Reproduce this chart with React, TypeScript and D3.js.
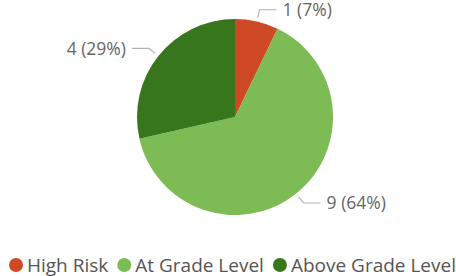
import React, { useRef, useEffect } from 'react';
import * as d3 from 'd3';

const categories = ['High Risk', 'At Grade Level', 'Above Grade Level'];
const counts = [1, 9, 4];
const colors = ['#CF4A24', '#7DBB55', '#38761D'];

const width = 456;
const height = 276;
const cx = 235;
const cy = 117;
const radius = 98;
const font = "'Open Sans', 'Noto Sans', sans-serif";

const App: React.FC = () => {
  const legendRef = useRef<SVGGElement | null>(null);

  const total = d3.sum(counts);
  const pie = d3
    .pie<number>()
    .sort(null)
    .value((d) => d);
  const arcs = pie(counts);
  const arc = d3.arc<d3.PieArcDatum<number>>().innerRadius(0).outerRadius(radius);
  const startArc = d3.arc<d3.PieArcDatum<number>>().innerRadius(102).outerRadius(102);
  const elbowArc = d3.arc<d3.PieArcDatum<number>>().innerRadius(110).outerRadius(110);

  useEffect(() => {
    if (!legendRef.current) return;
    // lay legend items out one after another using measured text widths
    const g = d3.select(legendRef.current);
    let x = 16;
    g.selectAll<SVGGElement, unknown>('g.item').each(function () {
      const item = d3.select(this);
      item.attr('transform', `translate(${x}, 0)`);
      const t = item.select<SVGTextElement>('text').node();
      const w = t ? t.getComputedTextLength() : 0;
      x += 11 + w + 16;
    });
  }, []);

  return (
    <svg
      width={width}
      height={height}
      style={{ position: 'absolute', left: 0, top: 0, background: '#fff' }}
    >
      <g transform={`translate(${cx}, ${cy})`}>
        {arcs.map((a, i) => (
          <path key={i} d={arc(a) || ''} fill={colors[i]} />
        ))}
        {arcs.map((a, i) => {
          const [x1, y1] = startArc.centroid(a);
          const [x2, y2] = elbowArc.centroid(a);
          const right = x2 > 0;
          const x3 = x2 + (right ? 17 : -17);
          const pct = Math.round((counts[i] / total) * 100);
          return (
            <g key={i}>
              <polyline
                points={`${x1},${y1} ${x2},${y2} ${x3},${y2}`}
                fill='none'
                stroke='#b3b3b3'
                strokeWidth={1.2}
              />
              <text
                x={x3 + (right ? 6 : -6)}
                y={y2}
                dy='0.35em'
                textAnchor={right ? 'start' : 'end'}
                fill='#666'
                style={{ fontFamily: font, fontSize: '17.5px' }}
              >
                {`${counts[i]} (${pct}%)`}
              </text>
            </g>
          );
        })}
      </g>
      <g ref={legendRef} transform='translate(0, 265)'>
        {categories.map((c, i) => (
          <g className='item' key={c}>
            <circle cx={0} cy={0} r={7} fill={colors[i]} />
            <text
              x={11}
              y={0}
              dy='0.36em'
              fill='#555'
              style={{ fontFamily: font, fontSize: '19px' }}
            >
              {c}
            </text>
          </g>
        ))}
      </g>
    </svg>
  );
};

export default App;
